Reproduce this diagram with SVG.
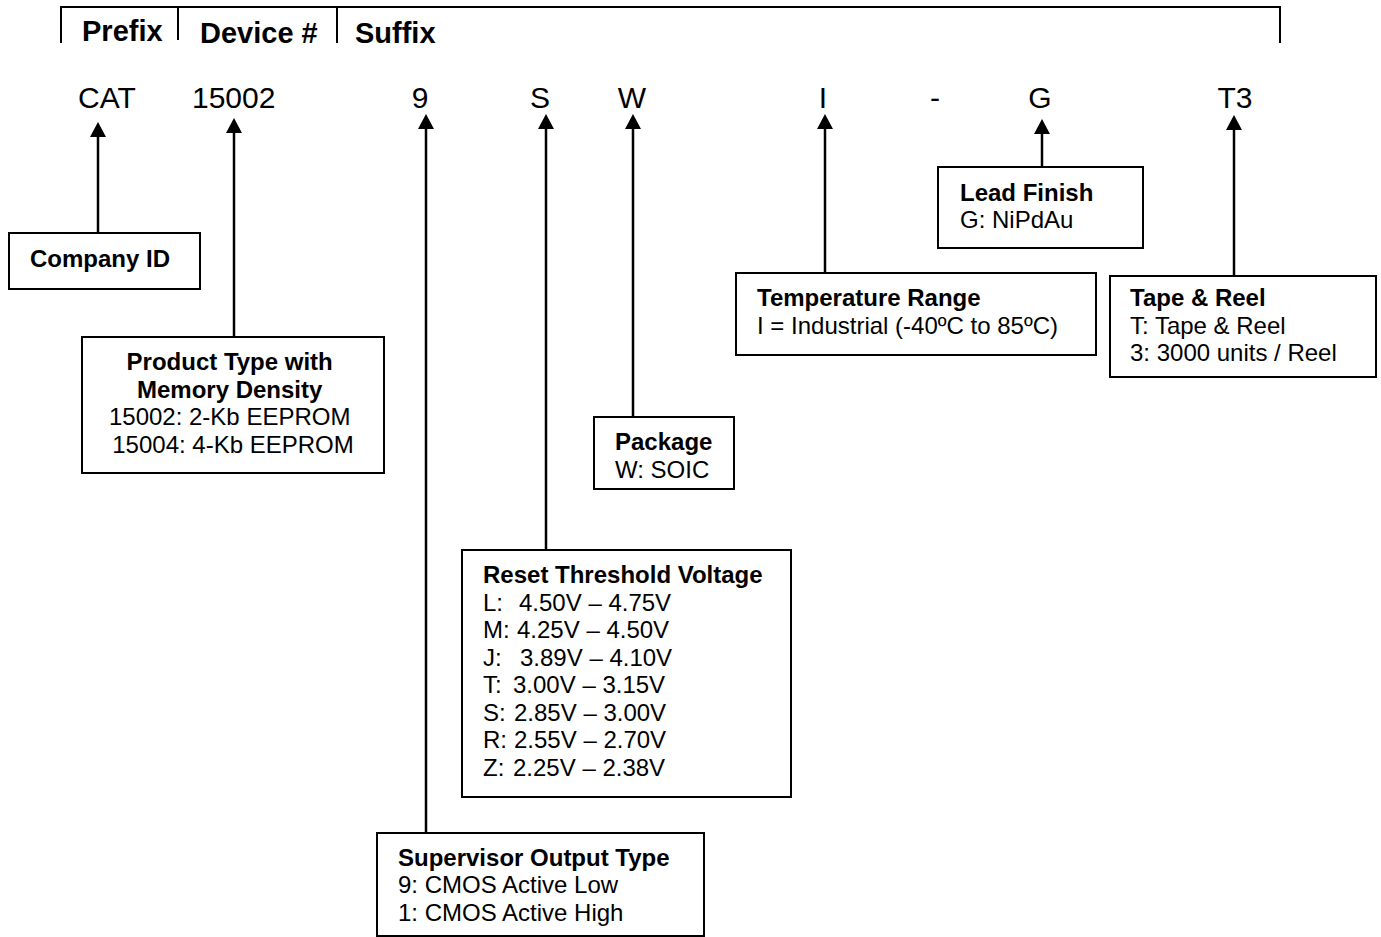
<svg xmlns="http://www.w3.org/2000/svg" width="1381" height="937" viewBox="0 0 1381 937">
<style>
.box{fill:#fff;stroke:#000;stroke-width:2}
.t{font-family:"Liberation Sans",Arial,sans-serif;font-size:24px;fill:#000}
.b{font-weight:bold}
.hd{font-family:"Liberation Sans",Arial,sans-serif;font-size:29px;font-weight:bold;fill:#000}
.code{font-family:"Liberation Sans",Arial,sans-serif;font-size:30px;fill:#000}
.con{stroke:#000;stroke-width:2.5;fill:none;marker-end:url(#ah)}
</style>
<defs>
<marker id="ah" markerUnits="userSpaceOnUse" markerWidth="15" markerHeight="16" viewBox="0 0 15 16" refX="6" refY="8" orient="auto">
<path d="M0,0 L15,8 L0,16 z" fill="#000"/>
</marker>
</defs>
<rect width="1381" height="937" fill="#fff"/>
<g id="header">
<path d="M61,43 V7 H1280 V43 M178,7 V40 M337,7 V43" fill="none" stroke="#000" stroke-width="2"/>
<text class="hd" x="82" y="41">Prefix</text>
<text class="hd" x="200" y="43">Device #</text>
<text class="hd" x="355" y="43">Suffix</text>
</g>
<g id="code">
<text class="code" x="78" y="108">CAT</text>
<text class="code" x="192" y="108">15002</text>
<text class="code" x="420" y="108" text-anchor="middle">9</text>
<text class="code" x="540" y="108" text-anchor="middle">S</text>
<text class="code" x="632" y="108" text-anchor="middle">W</text>
<text class="code" x="823" y="108" text-anchor="middle">I</text>
<text class="code" x="935" y="108" text-anchor="middle">-</text>
<text class="code" x="1040" y="108" text-anchor="middle">G</text>
<text class="code" x="1235" y="108" text-anchor="middle">T3</text>
</g>
<g id="connectors">
<line class="con" x1="98" y1="233" x2="98" y2="131"/>
<line class="con" x1="234" y1="337" x2="234" y2="127"/>
<line class="con" x1="426" y1="833" x2="426" y2="123"/>
<line class="con" x1="546" y1="550" x2="546" y2="123"/>
<line class="con" x1="633" y1="417" x2="633" y2="123"/>
<line class="con" x1="825" y1="273" x2="825" y2="123"/>
<line class="con" x1="1042" y1="167" x2="1042" y2="128"/>
<line class="con" x1="1234" y1="276" x2="1234" y2="124"/>
</g>
<g id="company-id">
<rect class="box" x="9" y="233" width="191" height="56"/>
<text class="t b" x="30" y="267">Company ID</text>
</g>
<g id="product-type">
<rect class="box" x="82" y="337" width="302" height="136"/>
<text class="t" text-anchor="middle">
<tspan class="b" x="233" y="370">Product Type with</tspan>
<tspan class="b" x="233" y="398">Memory Density</tspan>
<tspan x="233" y="425">15002: 2-Kb EEPROM</tspan>
<tspan x="233" y="453">15004: 4-Kb EEPROM</tspan>
</text>
</g>
<g id="package">
<rect class="box" x="594" y="417" width="140" height="72"/>
<text class="t b" x="615" y="450">Package</text>
<text class="t" x="615" y="478">W: SOIC</text>
</g>
<g id="reset-threshold">
<rect class="box" x="462" y="550" width="329" height="247"/>
<text class="t b" x="483" y="583">Reset Threshold Voltage</text>
<text class="t" x="483" y="611">L:<tspan x="519">4.50V – 4.75V</tspan></text>
<text class="t" x="483" y="638">M:<tspan x="517">4.25V – 4.50V</tspan></text>
<text class="t" x="483" y="666">J:<tspan x="520">3.89V – 4.10V</tspan></text>
<text class="t" x="483" y="693">T:<tspan x="513">3.00V – 3.15V</tspan></text>
<text class="t" x="483" y="721">S:<tspan x="514">2.85V – 3.00V</tspan></text>
<text class="t" x="483" y="748">R:<tspan x="514">2.55V – 2.70V</tspan></text>
<text class="t" x="483" y="776">Z:<tspan x="513">2.25V – 2.38V</tspan></text>
</g>
<g id="supervisor-output">
<rect class="box" x="377" y="833" width="327" height="103"/>
<text class="t b" x="398" y="866">Supervisor Output Type</text>
<text class="t" x="398" y="893">9: CMOS Active Low</text>
<text class="t" x="398" y="921">1: CMOS Active High</text>
</g>
<g id="temperature-range">
<rect class="box" x="736" y="273" width="360" height="82"/>
<text class="t b" x="757" y="306">Temperature Range</text>
<text class="t" x="757" y="334">I = Industrial (-40ºC to 85ºC)</text>
</g>
<g id="lead-finish">
<rect class="box" x="938" y="167" width="205" height="81"/>
<text class="t b" x="960" y="201">Lead Finish</text>
<text class="t" x="960" y="228">G: NiPdAu</text>
</g>
<g id="tape-reel">
<rect class="box" x="1110" y="276" width="266" height="101"/>
<text class="t b" x="1130" y="306">Tape &amp; Reel</text>
<text class="t" x="1130" y="334">T: Tape &amp; Reel</text>
<text class="t" x="1130" y="361">3: 3000 units / Reel</text>
</g>
</svg>
